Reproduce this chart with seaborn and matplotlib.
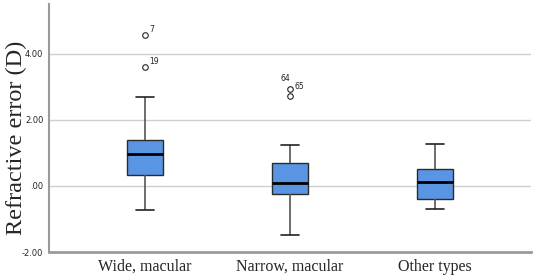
import seaborn as sns
import pandas as pd
import matplotlib
matplotlib.use("Agg")
import matplotlib.pyplot as plt
from matplotlib.ticker import FuncFormatter

# values (box stats reproduced through the raw points)
groups = ["Wide, macular", "Narrow, macular", "Other types"]
wide = [-0.72, -0.30, 0.10, 0.33, 0.60, 0.80, 0.97, 1.10, 1.25, 1.40, 2.70, 3.59, 4.55]
narrow = [-1.50, -0.90, -0.50, -0.24, -0.10, 0.00, 0.08, 0.30, 0.50, 0.68, 1.24, 2.72, 2.94]
other = [-0.69, -0.50, -0.39, -0.10, 0.13, 0.30, 0.52, 0.90, 1.28]

# labelled outliers: (group index, value, case id)
outlier_vals = [4.55, 3.59, 2.94, 2.94]
outlier_grp = [0, 0, 1, 1]
outlier_ids = ["7", "19", "64", "65"]
outlier_off = [(3, 1), (3, 1), (-7, 4), (3, -2)]

rows = []
for g, vals in zip(groups, [wide, narrow, other]):
    for v in vals:
        rows.append([g, v])
df = pd.DataFrame(rows, columns=["Group", "Value"])

sns.set_style("white")
plt.rcParams["font.family"] = ["Liberation Serif", "DejaVu Serif"]

fig = plt.figure(figsize=(5.36, 2.79), dpi=100)
ax = fig.add_axes([49 / 536, 27 / 279, 482 / 536, 248 / 279])

for y in [0, 2, 4]:
    ax.axhline(y, color="#cfcfcf", lw=1.0, zorder=0)

sns.boxplot(data=df, x="Group", y="Value", order=groups, ax=ax,
            width=0.25, color="#5a95e4", saturation=1, linewidth=1.0,
            fliersize=4,
            boxprops=dict(edgecolor="#2b2b2b", zorder=2),
            medianprops=dict(color="black", lw=2.0),
            whiskerprops=dict(color="#555555", lw=1.2),
            capprops=dict(color="#222222", lw=1.2),
            flierprops=dict(marker="o", markerfacecolor="none",
                            markeredgecolor="#222222", markeredgewidth=0.8))

for gi, v, lab, off in zip(outlier_grp, outlier_vals, outlier_ids, outlier_off):
    ax.annotate(lab, xy=(gi, v), xytext=off, textcoords="offset points",
                fontsize=5.5, family="DejaVu Sans", color="#222222",
                va="bottom", ha="left")

ax.set_xlim(-0.662, 2.662)
ax.set_ylim(-2, 5.5)
ax.set_yticks([-2, 0, 2, 4])
ax.yaxis.set_major_formatter(FuncFormatter(lambda v, p: "%.2f" % v if v != 0 else ".00"))
ax.tick_params(axis="y", length=0, pad=4, labelsize=6)
for t in ax.get_yticklabels():
    t.set_family("DejaVu Sans")
ax.tick_params(axis="x", length=0, pad=5, labelsize=11.5)

ax.set_xlabel("")
ax.set_ylabel("Refractive error (D)", fontsize=17.5)
ax.yaxis.set_label_coords(-0.046, 0.46)

for s in ["top", "right"]:
    ax.spines[s].set_visible(False)
ax.spines["left"].set_color("#9a9a9a")
ax.spines["left"].set_linewidth(1.5)
ax.spines["bottom"].set_color("#9a9a9a")
ax.spines["bottom"].set_linewidth(2.0)

fig.savefig("out.png", dpi=100)
